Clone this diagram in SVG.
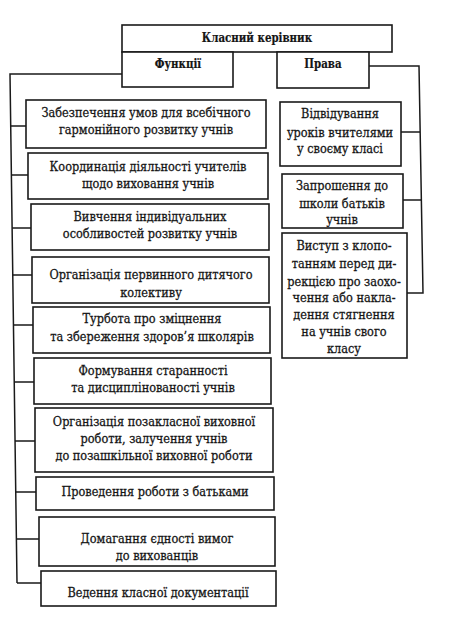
<svg xmlns="http://www.w3.org/2000/svg" width="469" height="618" viewBox="0 0 469 618">
<style>
.box{fill:#fff;stroke:#1a1a1a;stroke-width:1.6}
.ln{fill:none;stroke:#1a1a1a;stroke-width:1.5}
text{font-family:"DejaVu Serif","Liberation Serif",serif;font-size:13px;fill:#151515;stroke:#151515;stroke-width:0.3;text-anchor:middle}
.h{font-weight:bold;font-size:12.5px;stroke-width:0.2}
</style>
<rect width="469" height="618" fill="#fff"/>
<g id="connectors">
<path class="ln" d="M122,74 H10 L17,583"/>
<path class="ln" d="M10.7,126 H26 M11.4,175 H28 M12.1,228 H31 M12.8,275 H32 M13.5,325 H33 M14.2,382 H34 M15,441 H35 M15.7,492 H36 M16.4,539 H39 M17,583 H41"/>
<path class="ln" d="M369,66 H419 L423,293 H407 M401,132 H420 M403,200 H421.5"/>
</g>
<g id="root"><rect class="box" x="122" y="25" width="270" height="27"/><g transform="matrix(0.82 0 0 1 46.26 0)"><text class="h" x="257" y="42">Класний керівник</text></g></g>
<g id="funkcii"><rect class="box" x="122" y="52" width="111" height="35"/><g transform="matrix(0.82 0 0 1 32.04 0)"><text class="h" x="178" y="68">Функції</text></g></g>
<g id="prava"><rect class="box" x="277" y="52" width="92" height="36"/><g transform="matrix(0.82 0 0 1 58.14 0)"><text class="h" x="323" y="68">Права</text></g></g>
<g id="f1"><rect class="box" x="26" y="100" width="240" height="48"/><g transform="matrix(0.87 0 0 1 18.98 0)"><text x="146" y="117">Забезпечення умов для всебічного</text><text x="146" y="134">гармонійного розвитку учнів</text></g></g>
<g id="f2"><rect class="box" x="28" y="153" width="240" height="46"/><g transform="matrix(0.87 0 0 1 19.24 0)"><text x="148" y="171">Координація діяльності учителів</text><text x="148" y="188">щодо  виховання учнів</text></g></g>
<g id="f3"><rect class="box" x="31" y="204" width="238" height="46"/><g transform="matrix(0.87 0 0 1 19.5 0)"><text x="150" y="221">Вивчення індивідуальних</text><text x="150" y="238">особливостей розвитку учнів</text></g></g>
<g id="f4"><rect class="box" x="32" y="257" width="237" height="46"/><g transform="matrix(0.87 0 0 1 19.63 0)"><text x="151" y="279">Організація первинного дитячого</text><text x="151" y="297">колективу</text></g></g>
<g id="f5"><rect class="box" x="33" y="307" width="237" height="46"/><g transform="matrix(0.87 0 0 1 19.76 0)"><text x="152" y="323">Турбота про зміцнення</text><text x="152" y="341">та збереження здоров’я школярів</text></g></g>
<g id="f6"><rect class="box" x="34" y="358" width="237" height="46"/><g transform="matrix(0.87 0 0 1 19.89 0)"><text x="153" y="375">Формування старанності</text><text x="153" y="392">та дисциплінованості учнів</text></g></g>
<g id="f7"><rect class="box" x="35" y="408" width="238" height="64"/><g transform="matrix(0.87 0 0 1 20.02 0)"><text x="154" y="426">Організація позакласної виховної</text><text x="154" y="443">роботи, залучення учнів</text><text x="154" y="460">до позашкільної виховної роботи</text></g></g>
<g id="f8"><rect class="box" x="36" y="477" width="238" height="33"/><g transform="matrix(0.87 0 0 1 20.15 0)"><text x="155" y="496">Проведення роботи з батьками</text></g></g>
<g id="f9"><rect class="box" x="39" y="517" width="236" height="49"/><g transform="matrix(0.87 0 0 1 20.41 0)"><text x="157" y="543">Домагання єдності вимог</text><text x="157" y="560">до вихованців</text></g></g>
<g id="f10"><rect class="box" x="41" y="571" width="235" height="35"/><g transform="matrix(0.87 0 0 1 20.54 0)"><text x="158" y="597">Ведення класної документації</text></g></g>
<g id="p1"><rect class="box" x="280" y="102" width="121" height="64"/><g transform="matrix(0.87 0 0 1 44.2 0)"><text x="340" y="118">Відвідування</text><text x="340" y="137">уроків вчителями</text><text x="340" y="153">у своєму класі</text></g></g>
<g id="p2"><rect class="box" x="282" y="174" width="121" height="54"/><g transform="matrix(0.87 0 0 1 44.46 0)"><text x="342" y="190">Запрошення до</text><text x="342" y="208">школи батьків</text><text x="342" y="224">учнів</text></g></g>
<g id="p3"><rect class="box" x="282" y="233" width="125" height="125"/><g transform="matrix(0.87 0 0 1 44.72 0)"><text x="344" y="250">Виступ з клопо-</text><text x="344" y="268">танням перед ди-</text><text x="344" y="286">рекцією про заохо-</text><text x="344" y="302">чення або накла-</text><text x="344" y="319">дення стягнення</text><text x="344" y="336">на учнів свого</text><text x="344" y="353">класу</text></g></g>
</svg>
